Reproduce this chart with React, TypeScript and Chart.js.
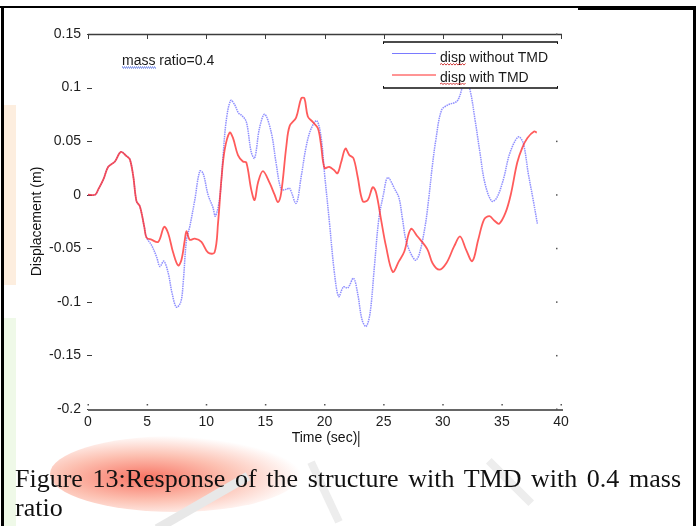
import React, { useEffect, useRef } from "react";
import { Chart, registerables } from "chart.js";

Chart.register(...registerables);

// ---- data ----
const tNoTmd = [0, 0.6, 0.87, 1.29, 1.71, 2.28, 2.78, 3.26, 3.54, 3.83, 4.1, 4.39, 4.76, 4.95, 5.37, 5.8, 6.08, 6.41, 6.78, 7.11, 7.48, 7.85, 8.05, 8.33, 8.6, 9.03, 9.45, 9.73, 10.15, 10.57, 10.77, 11.14, 11.42, 11.7, 12.07, 12.4, 12.74, 13.0, 13.39, 13.8, 14.09, 14.5, 14.94, 15.5, 15.9, 16.34, 16.77, 17.05, 17.6, 18.03, 18.45, 18.88, 19.35, 19.72, 20.0, 20.42, 20.84, 21.2, 21.6, 21.97, 22.45, 22.8, 23.18, 23.52, 23.86, 24.22, 24.59, 24.98, 25.35, 25.95, 26.3, 26.6, 26.95, 27.66, 28.0, 28.5, 28.8, 29.1, 29.4, 29.9, 30.47, 31.18, 31.46, 31.9, 32.3, 32.73, 33.15, 33.56, 34.14, 34.56, 35.12, 35.68, 36.39, 36.81, 37.23, 37.65, 38.0];
const dispNoTmd = [0, 0, 0.005, 0.014, 0.026, 0.031, 0.040, 0.036, 0.033, 0.017, -0.006, -0.011, -0.030, -0.040, -0.047, -0.058, -0.067, -0.062, -0.073, -0.092, -0.105, -0.100, -0.082, -0.042, -0.030, -0.005, 0.022, 0.020, 0.000, -0.012, -0.020, -0.003, 0.036, 0.070, 0.088, 0.084, 0.076, 0.074, 0.068, 0.040, 0.034, 0.062, 0.075, 0.058, 0.030, 0.005, 0.005, 0.006, -0.008, 0.017, 0.045, 0.062, 0.069, 0.053, 0.020, -0.026, -0.073, -0.095, -0.086, -0.087, -0.078, -0.092, -0.117, -0.123, -0.110, -0.067, -0.023, 0.000, 0.016, 0.005, -0.003, -0.023, -0.045, -0.061, -0.056, -0.030, -0.005, 0.025, 0.050, 0.079, 0.084, 0.087, 0.093, 0.108, 0.098, 0.070, 0.039, 0.011, -0.006, -0.003, 0.014, 0.039, 0.054, 0.048, 0.020, -0.005, -0.027];

const tTmd = [0, 0.6, 0.87, 1.29, 1.71, 2.28, 2.78, 3.26, 3.54, 3.83, 4.1, 4.39, 4.76, 4.95, 5.37, 5.94, 6.44, 6.78, 7.2, 7.62, 7.9, 8.19, 8.33, 8.6, 9.03, 9.59, 10.15, 10.7, 11.0, 11.28, 11.56, 11.98, 12.26, 12.68, 13.1, 13.39, 13.8, 14.09, 14.37, 14.79, 15.36, 15.78, 16.06, 16.34, 16.77, 17.05, 17.6, 18.03, 18.3, 18.59, 19.0, 19.44, 19.7, 20.0, 20.4, 20.8, 21.1, 21.4, 21.77, 22.1, 22.45, 22.8, 23.23, 23.66, 24.08, 24.36, 24.78, 25.2, 25.77, 26.3, 26.75, 27.3, 27.87, 28.7, 29.14, 29.7, 30.3, 30.97, 31.47, 31.96, 32.5, 33.0, 33.5, 33.95, 34.35, 34.77, 35.3, 35.75, 36.3, 36.73, 37.16, 37.72, 37.95];
const dispTmd = [0, 0, 0.005, 0.014, 0.026, 0.031, 0.040, 0.036, 0.033, 0.017, -0.006, -0.011, -0.030, -0.040, -0.042, -0.044, -0.030, -0.036, -0.054, -0.066, -0.061, -0.042, -0.034, -0.042, -0.041, -0.044, -0.054, -0.054, -0.026, 0.014, 0.042, 0.058, 0.053, 0.037, 0.031, 0.030, 0.005, -0.005, 0.011, 0.022, 0.011, 0.000, -0.007, 0.002, 0.045, 0.064, 0.072, 0.090, 0.090, 0.073, 0.068, 0.062, 0.047, 0.025, 0.026, 0.023, 0.020, 0.030, 0.043, 0.037, 0.034, 0.017, -0.006, -0.005, 0.007, 0.002, -0.023, -0.048, -0.072, -0.062, -0.053, -0.032, -0.039, -0.051, -0.064, -0.070, -0.064, -0.048, -0.039, -0.051, -0.062, -0.042, -0.023, -0.020, -0.024, -0.027, -0.017, 0.000, 0.030, 0.044, 0.053, 0.059, 0.058];

const xTicks = [0, 5, 10, 15, 20, 25, 30, 35, 40];
const yTicks = [-0.2, -0.15, -0.1, -0.05, 0, 0.05, 0.1, 0.15];
const yTickLabels = ["-0.2", "-0.15", "-0.1", "-0.05", "0", "0.05", "0.1", "0.15"];

const seriesLabels = ["disp without TMD", "disp with TMD"];
const annotationText = "mass ratio=0.4";
const xTitle = "Time (sec)";
const yTitle = "Displacement (m)";
const caption = "Figure 13:Response of the structure with TMD with 0.4 mass ratio";

const SANS = "'Liberation Sans', Arial, sans-serif";

function wavy(ctx: CanvasRenderingContext2D, x0: number, x1: number, y: number, color: string) {
  ctx.save();
  ctx.strokeStyle = color;
  ctx.lineWidth = 1;
  ctx.beginPath();
  let up = true;
  ctx.moveTo(x0, y);
  for (let x = x0 + 1.5; x <= x1; x += 1.5) {
    ctx.lineTo(x, up ? y - 1 : y + 0.6);
    up = !up;
  }
  ctx.stroke();
  ctx.restore();
}

const decorPlugin = {
  id: "decor",
  beforeDatasetsDraw(chart: any) {
    const { ctx, chartArea } = chart;
    const { left, right, top, bottom } = chartArea;
    const xs = chart.scales.x;
    const ys = chart.scales.y;
    ctx.save();
    ctx.strokeStyle = "#3c3c3c";
    ctx.lineWidth = 1.5;
    ctx.beginPath();
    ctx.moveTo(left, top + 0.5);
    ctx.lineTo(right + 1, top + 0.5);
    ctx.stroke();
    ctx.lineWidth = 1;
    xs.ticks.forEach((t: any) => {
      const px = Math.round(xs.getPixelForValue(t.value)) + 0.5;
      ctx.beginPath();
      ctx.moveTo(px, top);
      ctx.lineTo(px, top + 5);
      ctx.stroke();
    });
    ys.ticks.forEach((t: any) => {
      const py = Math.round(ys.getPixelForValue(t.value)) + 0.5;
      ctx.beginPath();
      ctx.moveTo(left - 1, py);
      ctx.lineTo(left + 4, py);
      ctx.stroke();
    });
    ctx.strokeStyle = "#666";
    ctx.lineWidth = 2;
    ctx.beginPath();
    ctx.moveTo(left, bottom + 1);
    ctx.lineTo(right + 2, bottom + 1);
    ctx.stroke();
    ctx.fillStyle = "#555";
    xs.ticks.forEach((t: any) => {
      const px = xs.getPixelForValue(t.value);
      ctx.fillRect(px - 0.5, bottom - 5, 1.5, 1.5);
    });
    ys.ticks.forEach((t: any) => {
      const py = ys.getPixelForValue(t.value);
      ctx.fillRect(right - 5, py - 0.5, 1.5, 1.5);
    });
    ctx.restore();
  },
  afterDatasetsDraw(chart: any) {
    const { ctx, chartArea } = chart;
    const { left, right, top } = chartArea;
    const ds = chart.data.datasets;
    ctx.save();
    const L = right - 178;
    const R = right - 3;
    const T = top + 8;
    const B = top + 54;
    ctx.fillStyle = "#fff";
    ctx.fillRect(L, T, R - L, B - T);
    ctx.strokeStyle = "#111";
    ctx.lineWidth = 1.5;
    ctx.beginPath();
    ctx.moveTo(L, T);
    ctx.lineTo(R, T);
    ctx.moveTo(L, B);
    ctx.lineTo(R, B);
    ctx.stroke();
    ctx.lineWidth = 1;
    ctx.beginPath();
    ctx.moveTo(L + 0.5, T);
    ctx.lineTo(L + 0.5, T + 2);
    ctx.moveTo(R - 0.5, T);
    ctx.lineTo(R - 0.5, T + 2);
    ctx.moveTo(L + 0.5, B);
    ctx.lineTo(L + 0.5, B - 2);
    ctx.moveTo(R - 0.5, B);
    ctx.lineTo(R - 0.5, B - 2);
    ctx.stroke();
    ctx.font = `14px ${SANS}`;
    ctx.textBaseline = "alphabetic";
    ctx.textAlign = "left";
    const lineYs = [T + 11.5, T + 33];
    const baseYs = [T + 20, T + 39.5];
    ds.forEach((d: any, i: number) => {
      ctx.strokeStyle = i === 0 ? "#7a7aff" : "#ff2a2a";
      ctx.lineWidth = 1;
      ctx.beginPath();
      ctx.moveTo(L + 9, lineYs[i]);
      ctx.lineTo(L + 53, lineYs[i]);
      ctx.stroke();
      ctx.fillStyle = "#1a1a1a";
      const tx = L + 57;
      ctx.fillText(d.label, tx, baseYs[i]);
      const w = ctx.measureText("disp").width;
      wavy(ctx, tx, tx + w, baseYs[i] + 2.5, "#d23a3a");
    });
    const ax = left + 34;
    const ay = top + 31;
    ctx.fillStyle = "#1a1a1a";
    ctx.fillText(annotationText, ax, ay);
    const mw = ctx.measureText("mass").width;
    ctx.fillStyle = "#3b5bdb";
    for (let x = ax; x < ax + mw; x += 2) {
      ctx.fillRect(x, ay + 1.5, 1, 1);
      ctx.fillRect(x + 1, ay + 2.5, 1, 1);
    }
    const xs = chart.scales.x;
    const w = ctx.measureText(xTitle).width;
    const cx = (xs.left + xs.right) / 2 + w / 2 + 1.5;
    ctx.strokeStyle = "#111";
    ctx.lineWidth = 1;
    ctx.beginPath();
    ctx.moveTo(cx, 431);
    ctx.lineTo(cx, 447);
    ctx.stroke();
    ctx.restore();
  },
};

function ChartView() {
  const ref = useRef<HTMLCanvasElement | null>(null);
  useEffect(() => {
    if (!ref.current) return;
    const chart = new Chart(ref.current, {
      type: "line",
      data: {
        datasets: [
          {
            label: seriesLabels[0],
            data: tNoTmd.map((t, i) => ({ x: t, y: dispNoTmd[i] })),
            borderColor: "rgba(105,105,255,0.75)",
            borderWidth: 1.5,
            borderDash: [1.5, 0.8],
            pointRadius: 0,
            tension: 0.35,
            fill: false,
            order: 1,
          },
          {
            label: seriesLabels[1],
            data: tTmd.map((t, i) => ({ x: t, y: dispTmd[i] })),
            borderColor: "rgba(255,45,45,0.78)",
            borderWidth: 1.8,
            pointRadius: 0,
            tension: 0.35,
            fill: false,
            order: 0,
          },
        ],
      },
      options: {
        responsive: false,
        animation: false,
        devicePixelRatio: 1,
        layout: { padding: { left: 0, top: 34, right: 135, bottom: 79.5 } },
        plugins: { legend: { display: false }, tooltip: { enabled: false } },
        scales: {
          x: {
            type: "linear",
            min: 0,
            max: 40,
            afterBuildTicks: (s: any) => {
              s.ticks = xTicks.map((v) => ({ value: v }));
            },
            afterFit: (s: any) => {
              s.height = 37.5;
            },
            grid: { display: false, drawTicks: false },
            border: { display: false },
            ticks: {
              padding: 5,
              color: "#1e1e1e",
              font: { family: SANS, size: 14 },
              maxRotation: 0,
              callback: (v: any) => String(v),
            },
            title: {
              display: true,
              text: xTitle,
              color: "#111",
              font: { family: SANS, size: 14 },
              padding: { top: 0, bottom: 0 },
            },
          },
          y: {
            type: "linear",
            min: -0.2,
            max: 0.15,
            afterBuildTicks: (s: any) => {
              s.ticks = yTicks.map((v) => ({ value: v }));
            },
            afterFit: (s: any) => {
              s.width = 88;
            },
            grid: { display: false, drawTicks: false },
            border: { display: false },
            ticks: {
              padding: 7,
              color: "#1e1e1e",
              font: { family: SANS, size: 14 },
              callback: (_v: any, i: number) => yTickLabels[i],
            },
            title: {
              display: true,
              text: yTitle,
              color: "#111",
              font: { family: SANS, size: 14 },
              padding: { top: 29, bottom: 0 },
            },
          },
        },
      },
      plugins: [decorPlugin],
    } as any);
    return () => chart.destroy();
  }, []);
  return (
    <canvas
      ref={ref}
      width={696}
      height={526}
      style={{ position: "absolute", left: 0, top: 0, width: 696, height: 526 }}
    />
  );
}

export default function App() {
  return (
    <div
      style={{
        position: "fixed",
        left: 0,
        top: 0,
        width: 696,
        height: 526,
        overflow: "hidden",
        background: "#fff",
      }}
    >
      {/* faint background tints of the source page */}
      <div style={{ position: "absolute", left: 4, top: 105, width: 12, height: 180, background: "#fdeedf" }} />
      <div style={{ position: "absolute", left: 4, top: 318, width: 12, height: 208, background: "#eff9e8" }} />
      <div
        style={{
          position: "absolute",
          left: 50,
          top: 436,
          width: 250,
          height: 76,
          borderRadius: "50%",
          background: "radial-gradient(ellipse at 38% 55%, rgba(246,80,60,0.8) 0%, rgba(250,130,100,0.5) 38%, rgba(255,225,210,0.0) 72%)",
        }}
      />
      <div style={{ position: "absolute", left: 150, top: 498, width: 105, height: 9, background: "#e8e8e8", transform: "rotate(-30deg)" }} />
      <div style={{ position: "absolute", left: 292, top: 488, width: 66, height: 8, background: "#ededed", transform: "rotate(65deg)" }} />
      <div style={{ position: "absolute", left: 480, top: 478, width: 60, height: 8, background: "#ededed", transform: "rotate(45deg)" }} />
      <ChartView />
      {/* frame */}
      <div style={{ position: "absolute", left: 0, top: 6, width: 696, height: 2, background: "#000" }} />
      <div style={{ position: "absolute", left: 578, top: 7, width: 118, height: 3, background: "#000" }} />
      <div style={{ position: "absolute", left: 1, top: 7, width: 3, height: 519, background: "#000" }} />
      <div style={{ position: "absolute", left: 693, top: 7, width: 3, height: 519, background: "#000" }} />
      <div
        style={{
          position: "absolute",
          left: 15,
          top: 464,
          width: 666,
          fontFamily: "'Liberation Serif', 'Times New Roman', serif",
          fontSize: 26,
          lineHeight: "29px",
          color: "#111",
          textAlign: "justify",
        }}
      >
        {caption}
      </div>
    </div>
  );
}
